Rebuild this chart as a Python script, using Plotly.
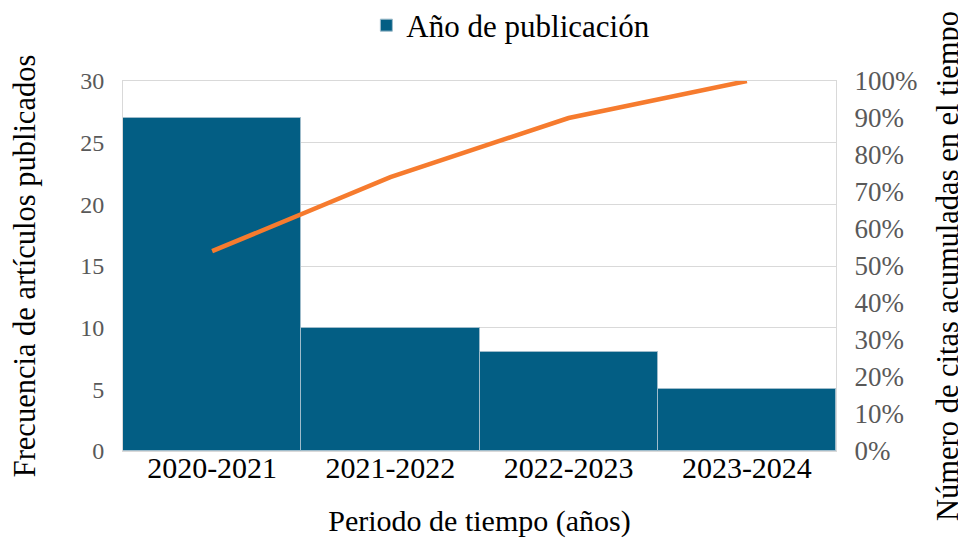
import plotly.graph_objects as go

periods = ["2020-2021", "2021-2022", "2022-2023", "2023-2024"]
articles = [27, 10, 8, 5]
cumulative_pct = [54, 74, 90, 100]

left_ticks = [0, 5, 10, 15, 20, 25, 30]
right_ticks = [0, 10, 20, 30, 40, 50, 60, 70, 80, 90, 100]
right_labels = [f"{t}%" for t in right_ticks]

FONT = "Times New Roman"
CLEAR = "rgba(0,0,0,0)"

fig = go.Figure()
fig.add_trace(go.Bar(
    x=periods, y=articles, name="Año de publicación",
    marker=dict(color="#035E84", line=dict(color="#9FBCCB", width=1)),
    showlegend=True,
))
fig.add_trace(go.Scatter(
    x=periods, y=cumulative_pct, yaxis="y2", mode="lines",
    line=dict(color="#F67B2E", width=4.5), showlegend=False,
))

fig.update_layout(
    width=966, height=541,
    margin=dict(l=115, r=138, t=73, b=98, autoexpand=False),
    paper_bgcolor="white", plot_bgcolor="white",
    font=dict(family=FONT, color="black"),
    bargap=0,
    showlegend=True,
    legend=dict(orientation="h", x=0.544, xanchor="center", y=1.15, yanchor="middle",
                font=dict(size=31, family=FONT, color="black"),
                itemwidth=30, traceorder="normal"),
    xaxis=dict(
        title=dict(text="Periodo de tiempo (años)", font=dict(size=30, family=FONT), standoff=26),
        tickfont=dict(size=30, family=FONT, color="black"),
        showline=True, linecolor="#D9D9D9", mirror=True,
        ticks="", ticklabelstandoff=-10,
    ),
    yaxis=dict(
        title=dict(text="Frecuencia de artículos publicados", font=dict(size=30.5, family=FONT), standoff=36),
        range=[0, 30], tickvals=left_ticks,
        tickfont=dict(size=24, family=FONT, color="#595959"),
        gridcolor="#D9D9D9", gridwidth=1, zeroline=False,
        showline=True, linecolor="#D9D9D9", mirror=True,
        ticks="outside", ticklen=13, tickcolor=CLEAR,
    ),
    yaxis2=dict(
        title=dict(text="Número de citas acumuladas en el tiempo", font=dict(size=30.5, family=FONT), standoff=20),
        overlaying="y", side="right", range=[0, 100],
        tickvals=right_ticks, ticktext=right_labels,
        tickfont=dict(size=27, family=FONT, color="#595959"),
        showgrid=False, zeroline=False,
        ticks="outside", ticklen=12, tickcolor=CLEAR,
    ),
)

fig.write_html("out.html")
